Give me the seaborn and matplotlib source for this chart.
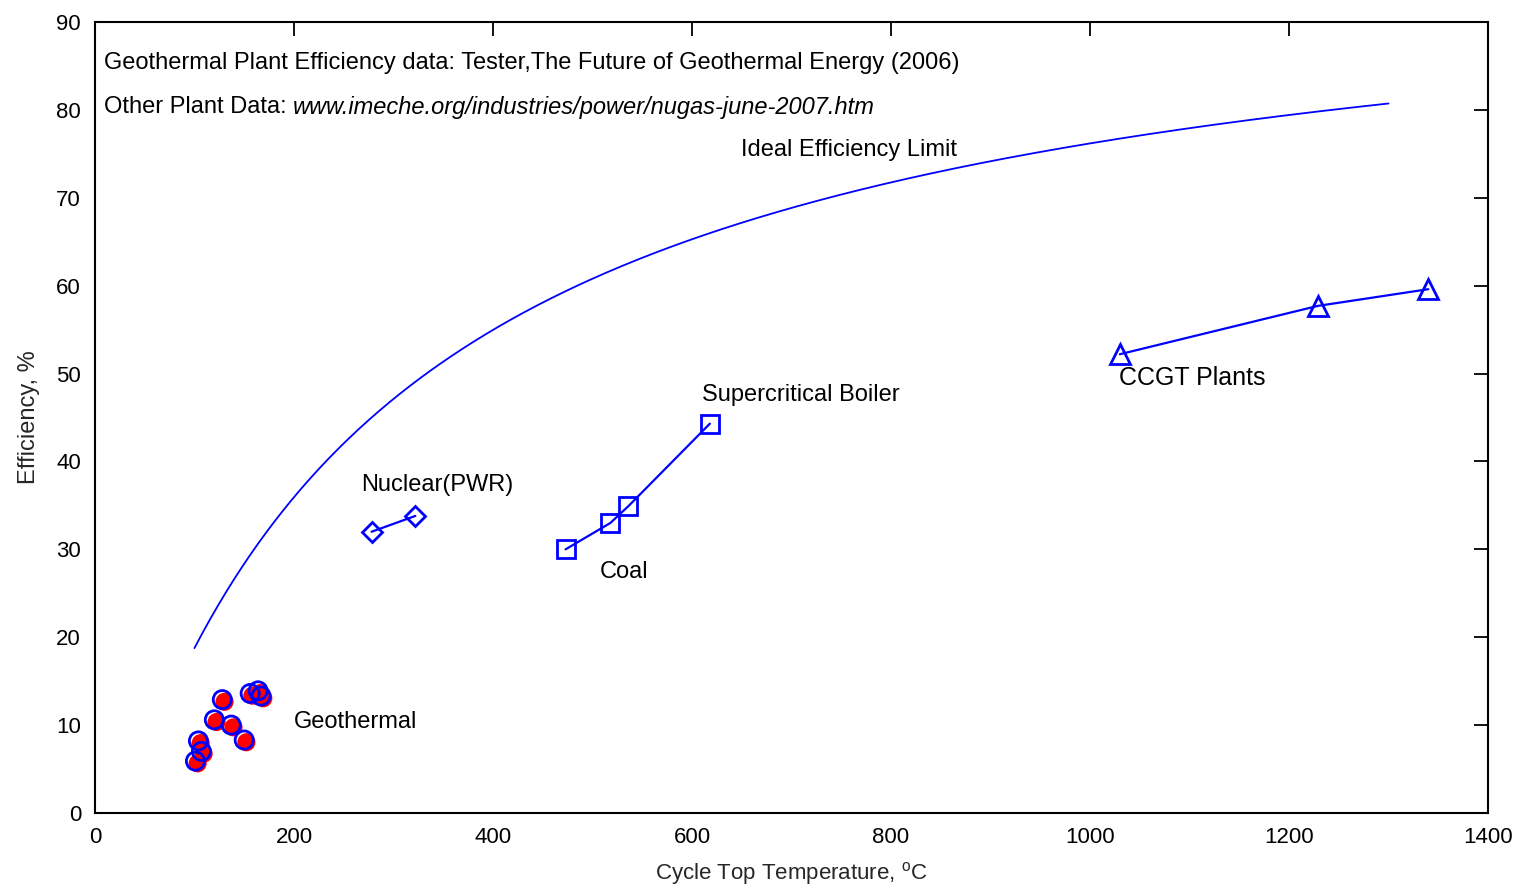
import numpy as np
import pandas as pd
import matplotlib
matplotlib.use("Agg")
import matplotlib.pyplot as plt
import matplotlib.transforms as mtransforms
import seaborn as sns

# Plant efficiency data (cycle top temperature in degC, efficiency in %)
geo_temp = [128, 156, 164, 167, 120, 137, 150, 104, 107, 101]
geo_eff = [12.9, 13.6, 13.9, 13.3, 10.6, 10.0, 8.3, 8.2, 7.0, 5.9]

nuclear_temp = [278, 322]
nuclear_eff = [32.0, 33.8]

coal_temp = [473, 518, 536, 618]
coal_eff = [30.0, 33.0, 34.9, 44.3]

ccgt_temp = [1030, 1229, 1340]
ccgt_eff = [52.2, 57.7, 59.6]

# Carnot limit with a 30 degC heat sink
sink_temp_c = 30.0
ideal_temp = np.arange(100, 1301, 2)
ideal_eff = 100 * (1 - (sink_temp_c + 273.15) / (ideal_temp + 273.15))

x_ticks = [0, 200, 400, 600, 800, 1000, 1200, 1400]
y_ticks = [0, 10, 20, 30, 40, 50, 60, 70, 80, 90]

sns.set_style("white")
plt.rcParams["font.family"] = ["Liberation Sans", "DejaVu Sans"]
plt.rcParams["mathtext.fontset"] = "custom"
plt.rcParams["mathtext.rm"] = "Liberation Sans"

fig = plt.figure(figsize=(15.19, 8.92), dpi=100)
ax = fig.add_axes([0.0625, 0.0886, 0.9171, 0.8867])

blue = "#0000ff"

sns.lineplot(x=ideal_temp, y=ideal_eff, ax=ax, color=blue, linewidth=1.3)

# Geothermal: red shaded discs with blue outlines on top
shadow = mtransforms.offset_copy(ax.transData, fig=fig, x=1.6, y=-1.6, units="points")
ax.scatter(geo_temp, geo_eff, s=170, color="red", edgecolor="none",
           transform=shadow, zorder=3)
sns.scatterplot(x=geo_temp, y=geo_eff, ax=ax, s=170, facecolor="none",
                edgecolor=blue, linewidth=2, zorder=4)

sns.lineplot(x=nuclear_temp, y=nuclear_eff, ax=ax, color=blue, linewidth=1.6,
             marker="D", markersize=10, markerfacecolor="none",
             markeredgecolor=blue, markeredgewidth=2)
sns.lineplot(x=coal_temp, y=coal_eff, ax=ax, color=blue, linewidth=1.6,
             marker="s", markersize=13, markerfacecolor="none",
             markeredgecolor=blue, markeredgewidth=2, sort=False)
sns.lineplot(x=ccgt_temp, y=ccgt_eff, ax=ax, color=blue, linewidth=1.6,
             marker="^", markersize=14, markerfacecolor="none",
             markeredgecolor=blue, markeredgewidth=2)

ax.set_xlim(0, 1400)
ax.set_ylim(0, 90)
ax.set_xticks(x_ticks)
ax.set_yticks(y_ticks)
ax.set_xticklabels([str(v) for v in x_ticks])
ax.set_yticklabels([str(v) for v in y_ticks])
ax.tick_params(direction="in", length=10, width=1.3, labelsize=16,
               top=True, right=True, colors="black", pad=10)
for side in ax.spines.values():
    side.set_color("black")
    side.set_linewidth(1.5)

ax.set_xlabel(r"Cycle Top Temperature, $^{\mathrm{o}}$C", fontsize=16, labelpad=9)
ax.set_ylabel("Efficiency, %", fontsize=17, labelpad=12)

txt = dict(fontsize=17, color="black", va="center", ha="left")
ax.text(9, 85.3, "Geothermal Plant Efficiency data: Tester,The Future of Geothermal Energy (2006)", **txt)
t = ax.text(9, 80.3, "Other Plant Data: ", **txt)
fig.canvas.draw()
bb = t.get_window_extent()
x_end = ax.transData.inverted().transform((bb.x1, bb.y0))[0]
ax.text(x_end, 80.3, "www.imeche.org/industries/power/nugas-june-2007.htm",
        style="italic", **txt)
ax.text(649, 75.4, "Ideal Efficiency Limit", **txt)
ax.text(268, 37.3, "Nuclear(PWR)", **txt)
ax.text(610, 47.6, "Supercritical Boiler", **txt)
ax.text(507, 27.4, "Coal", **txt)
ax.text(1029, 49.5, "CCGT Plants", fontsize=18, color="black", va="center", ha="left")
ax.text(200, 10.4, "Geothermal", **txt)

fig.savefig("out.png", dpi=100)
